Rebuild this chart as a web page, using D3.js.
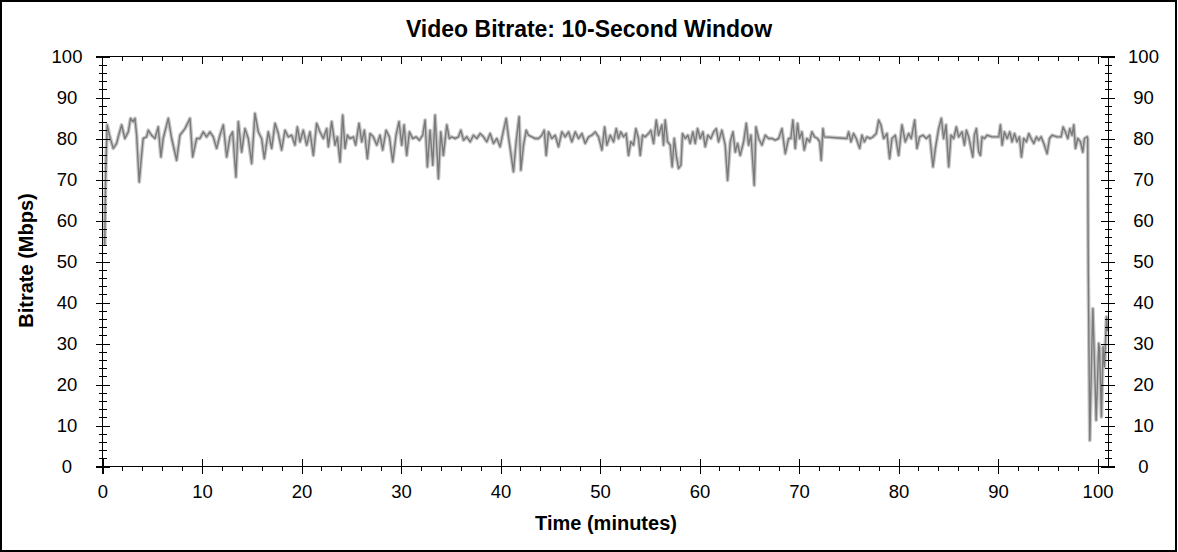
<!DOCTYPE html>
<html><head><meta charset="utf-8">
<script src="https://cdn.jsdelivr.net/npm/d3@7"></script>
<style>body{margin:0;background:#fff}svg{display:block}text{font-family:Arial,"Liberation Sans",sans-serif;fill:#000}</style>
</head><body>
<svg id="c" width="1178" height="552"></svg>
<script>
const title = "Video Bitrate: 10-Second Window";
const xLabel = "Time (minutes)";
const yLabel = "Bitrate (Mbps)";
const xTicks = [0,10,20,30,40,50,60,70,80,90,100];
const yTicks = [0,10,20,30,40,50,60,70,80,90,100];
const xMinorTicks = [2,4,6,8,12,14,16,18,22,24,26,28,32,34,36,38,42,44,46,48,52,54,56,58,62,64,66,68,72,74,76,78,82,84,86,88,92,94,96,98];
const yMinorTicks = [2,4,6,8,12,14,16,18,22,24,26,28,32,34,36,38,42,44,46,48,52,54,56,58,62,64,66,68,72,74,76,78,82,84,86,88,92,94,96,98];

const minutes = [0.22,0.32,0.47,0.74,1.08,1.42,1.58,1.92,2.25,2.59,2.82,3.09,3.26,3.43,3.69,3.93,4.09,4.43,4.6,4.93,5.27,5.6,5.87,6.1,6.61,6.95,7.45,7.78,8.29,8.79,9.06,9.46,9.79,10.13,10.46,10.8,11.13,11.47,11.8,12.14,12.48,12.81,13.08,13.41,13.65,13.98,14.32,14.65,14.99,15.32,15.66,15.99,16.26,16.66,17.0,17.34,17.67,
18.0,18.34,18.67,19.01,19.34,19.58,19.85,20.18,20.52,20.85,21.19,21.52,21.86,22.19,22.53,22.7,23.03,23.37,23.6,23.87,24.14,24.37,24.61,24.87,25.21,25.44,25.78,26.05,26.32,26.62,26.89,27.22,27.56,27.89,28.16,28.5,28.83,29.17,29.5,29.8,30.07,30.31,30.57,30.84,31.18,31.51,31.85,32.18,32.42,32.65,32.92,33.19,33.42,33.76,33.99,34.26,34.6,34.86,
35.1,35.44,35.77,36.01,36.28,36.61,36.95,37.28,37.62,37.95,38.29,38.62,38.96,39.29,39.63,39.96,40.3,40.57,40.8,41.07,41.3,41.57,41.87,42.04,42.31,42.58,42.81,43.15,43.48,43.82,44.15,44.39,44.59,44.82,45.16,45.49,45.83,46.16,46.5,46.84,47.17,47.51,47.84,48.18,48.51,48.85,49.18,49.52,49.85,50.19,50.46,50.69,51.03,51.36,51.63,51.86,
52.09,52.36,52.63,52.86,53.1,53.37,53.6,53.87,54.04,54.27,54.54,54.87,55.11,55.38,55.65,55.88,56.22,56.38,56.55,56.79,57.05,57.25,57.46,57.66,57.89,58.13,58.29,58.56,58.83,59.06,59.33,59.57,59.8,60.07,60.34,60.57,60.84,61.14,61.41,61.68,61.91,62.25,62.58,62.82,63.09,63.36,63.59,63.82,64.09,64.43,64.7,64.93,65.17,65.5,65.67,65.94,66.27,66.61,66.94,67.28,67.61,67.95,68.28,68.62,68.95,
69.18,69.38,69.62,69.85,70.05,70.29,70.52,70.79,71.06,71.29,71.56,71.86,72.07,72.23,72.4,72.53,73.64,74.81,74.98,75.22,75.48,75.75,76.09,76.32,76.56,76.83,77.16,77.43,77.76,78.0,78.23,78.5,78.84,79.1,79.34,79.67,80.01,80.34,80.68,81.02,81.28,81.62,81.85,82.12,82.46,82.79,83.13,83.46,83.7,84.03,84.3,84.53,84.77,85.04,85.27,85.54,85.81,86.04,
86.38,86.62,86.82,87.05,87.29,87.46,87.62,87.82,88.06,88.23,88.39,88.63,88.9,89.4,90.07,90.24,90.41,90.64,90.91,91.18,91.41,91.65,91.91,92.15,92.35,92.58,92.85,93.09,93.32,93.59,93.86,94.09,94.33,94.6,94.93,95.17,95.43,95.94,96.34,96.54,96.77,97.01,97.21,97.44,97.61,97.78,98.01,98.28,98.52,98.68,98.95,99.01,
99.05,99.07,99.22,99.46,99.53,99.86,100.12,100.2,100.39,100.56,100.7,100.9,101.0];

const bitrate = [54,72,83.3,80.4,77.6,78.8,80.4,83.3,80,81.6,84.9,84.1,84.9,80.8,69.4,76,80,80.4,82,80.8,80,82.8,75.5,80,84.9,80,74.7,80.8,82.4,84.9,75.5,80,80,81.6,80.4,81.6,80.4,77.6,80.8,83.3,75.5,80.4,81.6,70.6,84.1,76.7,82.4,80,73.9,86.1,81.6,80,75.1,81.6,77.6,83.7,81.2,
77.2,82,80.4,80.8,78.4,82.8,79.2,82,78.4,81.6,75.9,83.7,81.6,80,82.4,78,84.1,78.4,80.4,74.3,85.7,77.6,80.8,80,80.4,78.4,83.7,79.2,82,75.1,81.2,80.4,78.4,80.8,77.2,82,80.4,74.3,80.8,84.1,78.4,83.3,75.9,81.6,80,80.4,79.6,80.8,84.5,73.1,82,73.5,85.7,70.2,81.6,75.9,83.3,80,
80.4,80,80.4,82,79.6,80.4,79.2,80.8,80,81.2,80.4,79.2,81.2,78.8,80,78,82,84.9,80.4,75.9,71.9,79.2,85.3,72.3,78.4,82,80.8,80.4,80,80,80.8,82,75.9,81.6,80,80.8,78,81.6,80.4,81.6,79.2,81.6,80,81.2,78.8,80.4,80.8,81.6,80.4,77.2,82.8,78.4,80.8,79.2,82.4,80,
81.6,80.4,81.2,75.9,79.2,78.4,82.4,80,75.9,80.8,80.4,81.2,82,78.8,84.5,80.8,83.3,78.4,84.5,79.2,78.4,73.1,80,75.9,72.7,73.5,81.2,80,80.8,78.8,81.6,78.8,82.4,80,81.6,78,80.8,80,81.6,82.4,79.2,82,78.4,69.8,79.2,81.6,76.7,78.8,75.9,79.2,83.7,78.4,80.8,68.6,82.8,80,78.4,80.8,80,80,79.6,80,82.4,76.3,80,
80,84.5,77.6,83.7,80,81.6,77.2,80,79.2,81.6,80.4,80,79.2,74.7,82.4,80.4,80.2,80,81.6,79.2,81.2,80,77.6,80.8,79.2,80.4,80,80.4,81.2,84.5,83.3,80,81.2,75.1,80,80.8,75.9,83.3,79.2,81.2,80,84.5,77.6,80.4,80.8,80,80.8,73.1,77.6,82.4,84.9,80,83.3,73.1,80.8,80,82.8,80.4,
81.6,78.4,82,80.4,77.6,75.5,80.8,82.4,76.7,75.9,80.4,80,80.8,80.4,80.4,83.3,78.4,81.6,80,81.6,79.2,81.2,79.2,80.4,75.5,80,79.2,81.2,80,78.8,80.4,79.6,80.4,78.8,76.3,80,80.8,80.4,80.4,82.8,81.6,80,82.4,80.8,83.3,77.6,80,79.2,76.7,80,80.4,80,
55,47,6.4,32.5,38.5,11.3,30,28.5,12.1,29.2,24.3,36.5,33];

const data = minutes.map((m,i)=>[m,bitrate[i]]);

const svg = d3.select("#c");
const L=102.5, R=1108.5, T=56.5, B=466.5;
const x = d3.scaleLinear().domain([0,101.1]).range([L,R]);
const y = d3.scaleLinear().domain([0,100]).range([B,T]);

// outer frame
svg.append("rect").attr("x",1).attr("y",1).attr("width",1175).attr("height",550)
  .attr("fill","none").attr("stroke","#000").attr("stroke-width",2);

// data line (halo + core)
const line = d3.line().x(d=>x(d[0])).y(d=>y(d[1]));
svg.append("path").datum(data).attr("d",line).attr("fill","none")
  .attr("stroke","#c6c6c6").attr("stroke-width",3.8).attr("stroke-linejoin","round");
svg.append("path").datum(data).attr("d",line).attr("fill","none")
  .attr("stroke","#7a7a7a").attr("stroke-width",1.4).attr("stroke-linejoin","round");

function fixTicks(g, a1, a2, horiz){
  g.select(".domain").remove();
  g.selectAll(".tick line").attr(horiz?"y1":"x1",a1).attr(horiz?"y2":"x2",a2)
    .attr("stroke","#000").attr("shape-rendering","crispEdges");
}
const fs = "18.5px";

// left axis
const gL = svg.append("g").attr("transform",`translate(${L},0)`)
  .call(d3.axisLeft(y).tickValues(yTicks).tickFormat(d3.format("d")).tickSizeOuter(0));
fixTicks(gL,-6.5,7.5,false);
gL.selectAll(".tick text").attr("x",-35.5).attr("dy",null).attr("y",6.4)
  .attr("text-anchor","middle").style("font-size",fs).attr("font-family",null);
const gLm = svg.append("g").attr("transform",`translate(${L},0)`)
  .call(d3.axisLeft(y).tickValues(yMinorTicks).tickFormat("").tickSizeOuter(0));
fixTicks(gLm,-3.5,4.5,false);

// right axis
const gR = svg.append("g").attr("transform",`translate(${R},0)`)
  .call(d3.axisRight(y).tickValues(yTicks).tickFormat(d3.format("d")).tickSizeOuter(0));
fixTicks(gR,-7.5,6.5,false);
gR.selectAll(".tick text").attr("x",35).attr("dy",null).attr("y",6.4)
  .attr("text-anchor","middle").style("font-size",fs).attr("font-family",null);
const gRm = svg.append("g").attr("transform",`translate(${R},0)`)
  .call(d3.axisRight(y).tickValues(yMinorTicks).tickFormat("").tickSizeOuter(0));
fixTicks(gRm,-3.5,3.5,false);

// bottom axis
const gB = svg.append("g").attr("transform",`translate(0,${B})`)
  .call(d3.axisBottom(x).tickValues(xTicks).tickFormat(d3.format("d")).tickSizeOuter(0));
fixTicks(gB,-7.5,7.5,true);
gB.selectAll(".tick text").attr("y",31).attr("dy",null)
  .attr("text-anchor","middle").style("font-size",fs).attr("font-family",null);
const gBm = svg.append("g").attr("transform",`translate(0,${B})`)
  .call(d3.axisBottom(x).tickValues(xMinorTicks).tickFormat("").tickSizeOuter(0));
fixTicks(gBm,0,4,true);

// top axis (inward ticks, no labels)
const gT = svg.append("g").attr("transform",`translate(0,${T})`)
  .call(d3.axisTop(x).tickValues(xTicks.filter(v=>v>0)).tickFormat("").tickSizeOuter(0));
fixTicks(gT,0,7,true);
const gTm = svg.append("g").attr("transform",`translate(0,${T})`)
  .call(d3.axisTop(x).tickValues(xMinorTicks).tickFormat("").tickSizeOuter(0));
fixTicks(gTm,0,4,true);

// axis lines
const ax = svg.append("g").attr("stroke","#000").attr("shape-rendering","crispEdges");
ax.append("line").attr("x1",L-6.5).attr("x2",R+6.5).attr("y1",T).attr("y2",T);
ax.append("line").attr("x1",L-6.5).attr("x2",R+6.5).attr("y1",B).attr("y2",B);
ax.append("line").attr("x1",L).attr("x2",L).attr("y1",T).attr("y2",B+7.5);
ax.append("line").attr("x1",R).attr("x2",R).attr("y1",T).attr("y2",B);

// titles
svg.append("text").attr("x",589).attr("y",36.5).attr("text-anchor","middle")
  .style("font-size","23px").style("font-weight","bold").text(title);
svg.append("text").attr("x",606).attr("y",530).attr("text-anchor","middle")
  .style("font-size","20px").style("font-weight","bold").text(xLabel);
svg.append("text").attr("transform","translate(32.5,260.5) rotate(-90)").attr("text-anchor","middle")
  .style("font-size","20px").style("font-weight","bold").text(yLabel);
</script>
</body></html>
